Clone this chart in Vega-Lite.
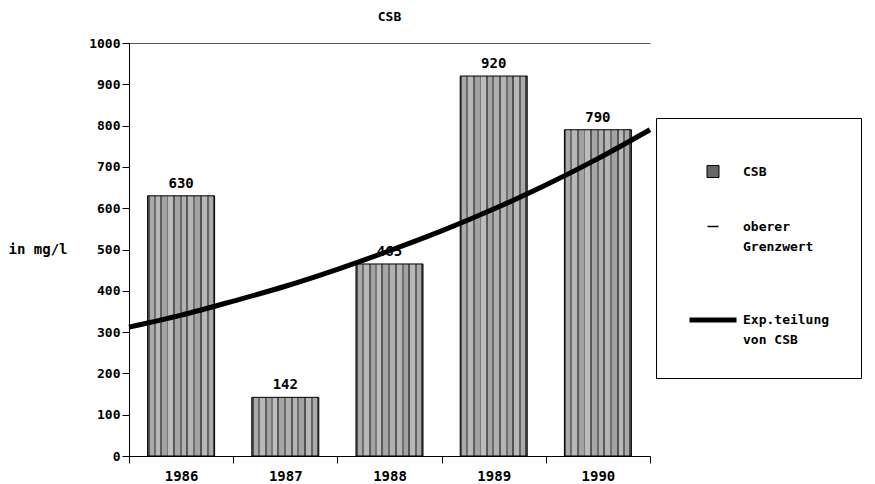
{
  "$schema": "https://vega.github.io/schema/vega-lite/v6.json",
  "width": 521,
  "height": 413,
  "autosize": "none",
  "padding": {"left": 129, "top": 43, "right": 225, "bottom": 28},
  "background": "white",
  "config": {
    "view": {"stroke": null},
    "font": "DejaVu Sans Mono",
    "style": {"guide-label": {"lineHeight": 20}}
  },
  "title": {"text": "CSB", "font": "DejaVu Sans Mono", "fontWeight": "bold", "fontSize": 13, "color": "black", "offset": 15, "dy": 2},
  "datasets": {
    "bars": [
      {"year": "1986", "value": 630},
      {"year": "1987", "value": 142},
      {"year": "1988", "value": 465},
      {"year": "1989", "value": 920},
      {"year": "1990", "value": 790}
    ],
    "trend": [
      {"t": 0.5, "v": 312},
      {"t": 1.0, "v": 341},
      {"t": 1.5, "v": 375},
      {"t": 2.0, "v": 411},
      {"t": 2.5, "v": 452},
      {"t": 3.0, "v": 497},
      {"t": 3.5, "v": 545},
      {"t": 4.0, "v": 598},
      {"t": 4.5, "v": 656},
      {"t": 5.0, "v": 720},
      {"t": 5.5, "v": 790}
    ],
    "legend": [
      {"series": "CSB"},
      {"series": "oberer Grenzwert"},
      {"series": "Exp.teilung von CSB"}
    ]
  },
  "layer": [
    {
      "data": {"name": "bars"},
      "layer": [
        {
          "mark": {
            "type": "bar",
            "width": {"band": 0.643},
            "stroke": "black",
            "strokeWidth": 1,
            "fill": {
              "gradient": "linear", "x1": 0, "y1": 0, "x2": 1, "y2": 0,
              "stops": [
                {"offset": 0, "color": "#505050"}, {"offset": 0.03, "color": "#505050"},
                {"offset": 0.03, "color": "#aaaaaa"}, {"offset": 0.09, "color": "#aaaaaa"},
                {"offset": 0.09, "color": "#6c6c6c"}, {"offset": 0.12, "color": "#6c6c6c"},
                {"offset": 0.12, "color": "#b8b8b8"}, {"offset": 0.19, "color": "#b8b8b8"},
                {"offset": 0.19, "color": "#5e5e5e"}, {"offset": 0.22, "color": "#5e5e5e"},
                {"offset": 0.22, "color": "#a2a2a2"}, {"offset": 0.29, "color": "#a2a2a2"},
                {"offset": 0.29, "color": "#787878"}, {"offset": 0.31, "color": "#787878"},
                {"offset": 0.31, "color": "#bcbcbc"}, {"offset": 0.38, "color": "#bcbcbc"},
                {"offset": 0.38, "color": "#585858"}, {"offset": 0.41, "color": "#585858"},
                {"offset": 0.41, "color": "#a6a6a6"}, {"offset": 0.48, "color": "#a6a6a6"},
                {"offset": 0.48, "color": "#6a6a6a"}, {"offset": 0.51, "color": "#6a6a6a"},
                {"offset": 0.51, "color": "#b0b0b0"}, {"offset": 0.58, "color": "#b0b0b0"},
                {"offset": 0.58, "color": "#5a5a5a"}, {"offset": 0.61, "color": "#5a5a5a"},
                {"offset": 0.61, "color": "#b4b4b4"}, {"offset": 0.68, "color": "#b4b4b4"},
                {"offset": 0.68, "color": "#707070"}, {"offset": 0.71, "color": "#707070"},
                {"offset": 0.71, "color": "#a2a2a2"}, {"offset": 0.78, "color": "#a2a2a2"},
                {"offset": 0.78, "color": "#525252"}, {"offset": 0.81, "color": "#525252"},
                {"offset": 0.81, "color": "#b8b8b8"}, {"offset": 0.88, "color": "#b8b8b8"},
                {"offset": 0.88, "color": "#646464"}, {"offset": 0.91, "color": "#646464"},
                {"offset": 0.91, "color": "#aaaaaa"}, {"offset": 0.97, "color": "#aaaaaa"},
                {"offset": 0.97, "color": "#4a4a4a"}, {"offset": 1, "color": "#4a4a4a"}
              ]
            }
          },
          "encoding": {
            "x": {
              "field": "year", "type": "nominal",
              "scale": {"paddingInner": 0, "paddingOuter": 0},
              "axis": {
                "title": null, "labelAngle": 0, "tickBand": "extent", "tickSize": 7,
                "tickColor": "black", "domainColor": "black", "labelPadding": 6,
                "labelFont": "DejaVu Sans Mono", "labelFontWeight": "bold", "labelFontSize": 14, "labelColor": "black"
              }
            },
            "y": {
              "field": "value", "type": "quantitative",
              "scale": {"domain": [0, 1000], "nice": false},
              "axis": {
                "title": "in mg/l", "titleAngle": 0, "titleX": -121, "titleY": 206,
                "titleAlign": "left", "titleBaseline": "middle",
                "titleFont": "DejaVu Sans Mono", "titleFontWeight": "bold", "titleFontSize": 14, "titleColor": "black",
                "values": [0, 100, 200, 300, 400, 500, 600, 700, 800, 900, 1000],
                "format": "d", "grid": false, "domainColor": "black", "tickColor": "black",
                "tickSize": 7, "labelPadding": 2, "labelOverlap": false,
                "labelFont": "DejaVu Sans Mono", "labelFontWeight": "bold", "labelFontSize": 13, "labelColor": "black"
              }
            }
          }
        },
        {
          "mark": {"type": "text", "baseline": "bottom", "dy": -5, "fontWeight": "bold", "fontSize": 14, "font": "DejaVu Sans Mono", "color": "black"},
          "encoding": {
            "x": {"field": "year", "type": "nominal"},
            "y": {"field": "value", "type": "quantitative", "scale": {"domain": [0, 1000], "nice": false}},
            "text": {"field": "value", "type": "quantitative"}
          }
        }
      ]
    },
    {
      "data": {"name": "trend"},
      "mark": {"type": "line", "stroke": "black", "strokeWidth": 5, "interpolate": "monotone"},
      "encoding": {
        "x": {
          "field": "t", "type": "quantitative",
          "scale": {"domain": [0.5, 5.5], "nice": false, "zero": false},
          "axis": {"orient": "top", "labels": false, "ticks": false, "grid": false, "domain": true, "domainColor": "#555555", "title": null}
        },
        "y": {"field": "v", "type": "quantitative", "scale": {"domain": [0, 1000], "nice": false}}
      }
    },
    {
      "data": {"name": "legend"},
      "transform": [{"filter": "false"}],
      "mark": {"type": "point", "filled": true, "opacity": 1},
      "encoding": {
        "fill": {
          "field": "series", "type": "nominal",
          "scale": {"domain": ["CSB", "oberer Grenzwert", "Exp.teilung von CSB"], "range": ["#666666", "black", "black"]},
          "legend": {
            "orient": "none", "legendX": 527, "legendY": 75,
            "title": " ", "titleFontSize": 10, "titlePadding": 6,
            "padding": 31, "strokeColor": "black", "fillColor": "white",
            "labelFont": "DejaVu Sans Mono", "labelFontWeight": "bold", "labelFontSize": 13, "labelColor": "black",
            "labelOffset": 4, "rowPadding": 40, "symbolOpacity": 1, "labelLimit": 300,
            "labelExpr": "datum.label == 'oberer Grenzwert' ? ['oberer', 'Grenzwert'] : datum.label == 'Exp.teilung von CSB' ? ['Exp.teilung', 'von CSB'] : datum.label"
          }
        },
        "stroke": {
          "field": "series", "type": "nominal",
          "scale": {"domain": ["CSB", "oberer Grenzwert", "Exp.teilung von CSB"], "range": ["black", "black", "black"]}
        },
        "shape": {
          "field": "series", "type": "nominal",
          "scale": {"domain": ["CSB", "oberer Grenzwert", "Exp.teilung von CSB"], "range": ["square", "stroke", "stroke"]}
        },
        "strokeWidth": {
          "field": "series", "type": "nominal",
          "scale": {"type": "ordinal", "domain": ["CSB", "oberer Grenzwert", "Exp.teilung von CSB"], "range": [1, 1.5, 5]}
        },
        "size": {
          "field": "series", "type": "nominal",
          "scale": {"type": "ordinal", "domain": ["CSB", "oberer Grenzwert", "Exp.teilung von CSB"], "range": [144, 121, 2209]}
        }
      }
    }
  ],
  "resolve": {"scale": {"x": "independent"}}
}
